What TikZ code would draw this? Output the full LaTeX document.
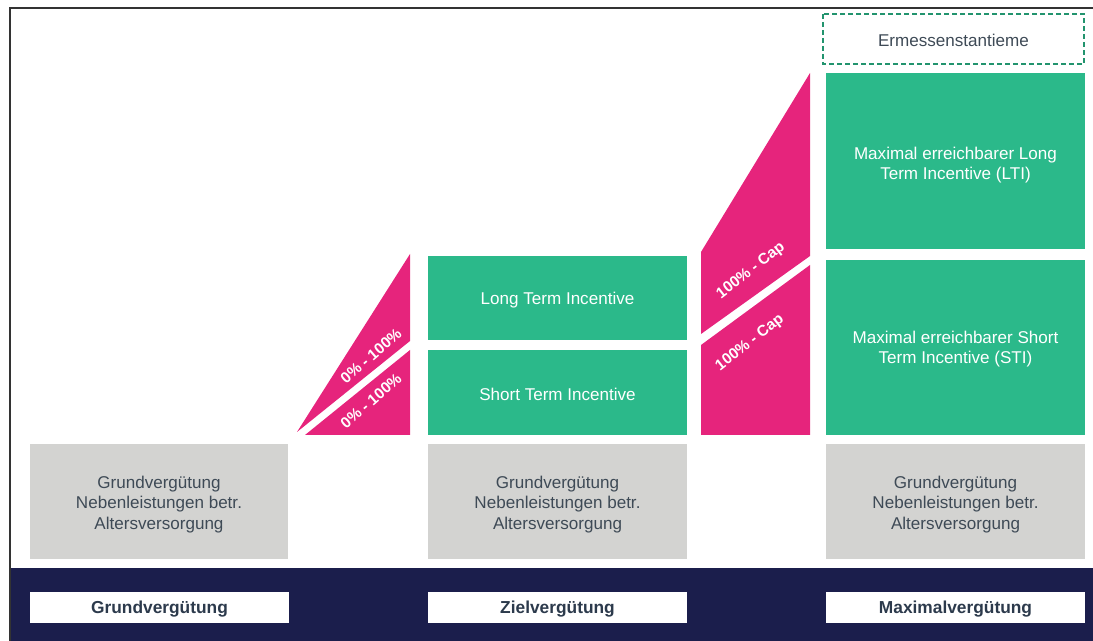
\documentclass[tikz,border=0pt]{standalone}
\usepackage{fontspec}
\setmainfont{Liberation Sans}
\definecolor{cgreen}{HTML}{2BB98A}
\definecolor{cmag}{HTML}{E6247C}
\definecolor{cnavy}{HTML}{1B1E4C}
\definecolor{cgrey}{HTML}{D3D3D1}
\definecolor{ctext}{HTML}{3E4A56}
\definecolor{clabel}{HTML}{2C3A4C}
\definecolor{cframe}{HTML}{333333}
\tikzset{
  greytxt/.style={text=ctext, align=center, font=\fontsize{12.8}{15.4}\selectfont, inner sep=0pt},
  greentxt/.style={text=white, align=center, font=\fontsize{12.8}{15.4}\selectfont, inner sep=0pt},
  magtxt/.style={text=white, font=\bfseries\fontsize{11.5}{13}\selectfont, inner sep=0pt},
  labtxt/.style={text=clabel, font=\bfseries\fontsize{13}{15}\selectfont, inner sep=0pt},
}
\begin{document}
\begin{tikzpicture}[x=0.75pt,y=-0.75pt]
\useasboundingbox (0,0) rectangle (1093,641);
% frame
\draw[cframe, line width=1.1pt] (10,641) -- (10,8) -- (1093,8);
% navy bar
\fill[cnavy] (11,568) rectangle (1093,641);
% bottom labels
\fill[white] (30,592) rectangle (289,623);
\fill[white] (428,592) rectangle (687,623);
\fill[white] (826,592) rectangle (1085,623);
\node[labtxt] (l1) at (159.5,609) {Grundvergütung};
\node[labtxt] (l2) at (557.5,609) {Zielvergütung};
\node[labtxt] (l3) at (955.5,609) {Maximalvergütung};
% grey boxes
\fill[cgrey] (30,444) rectangle (288,559);
\fill[cgrey] (428,444) rectangle (687,559);
\fill[cgrey] (826,444) rectangle (1085,559);
\node[greytxt] (g1) at (159,504.5) {Grundvergütung\\Nebenleistungen betr.\\Altersversorgung};
\node[greytxt] (g2) at (557.5,504.5) {Grundvergütung\\Nebenleistungen betr.\\Altersversorgung};
\node[greytxt] (g3) at (955.5,504.5) {Grundvergütung\\Nebenleistungen betr.\\Altersversorgung};
% middle green
\fill[cgreen] (428,256) rectangle (687,340);
\fill[cgreen] (428,350) rectangle (687,435);
\node[greentxt] (m1) at (557.5,300) {Long Term Incentive};
\node[greentxt] (m2) at (557.5,394.5) {Short Term Incentive};
% right green
\fill[cgreen] (826,73) rectangle (1085,249);
\fill[cgreen] (826,260) rectangle (1085,435);
\node[greentxt] (r1) at (955.5,165) {Maximal erreichbarer Long\\Term Incentive (LTI)};
\node[greentxt] (r2) at (955.5,349) {Maximal erreichbarer Short\\Term Incentive (STI)};
% dashed box
\draw[cgreen!80!black, line width=1.3pt, dash pattern=on 4pt off 2pt] (823,14) rectangle (1084,64);
\node[greytxt] (e1) at (953.5,40) {Ermessenstantieme};
% left magenta
\fill[cmag] (297,432) -- (410,254) -- (410,341) -- cycle;
\fill[cmag] (305,435) -- (410,350) -- (410,435) -- cycle;
\node[magtxt, rotate=41] (p1) at (371,356) {0\% - 100\%};
\node[magtxt, rotate=41] (p2) at (371,401) {0\% - 100\%};
% right magenta
\fill[cmag] (701,252) -- (810,73) -- (810,256) -- (701,334) -- cycle;
\fill[cmag] (701,345) -- (810,265) -- (810,435) -- (701,435) -- cycle;
\node[magtxt, rotate=38] (c1) at (751,271) {100\% - Cap};
\node[magtxt, rotate=38] (c2) at (750,343) {100\% - Cap};
\end{tikzpicture}
\end{document}
